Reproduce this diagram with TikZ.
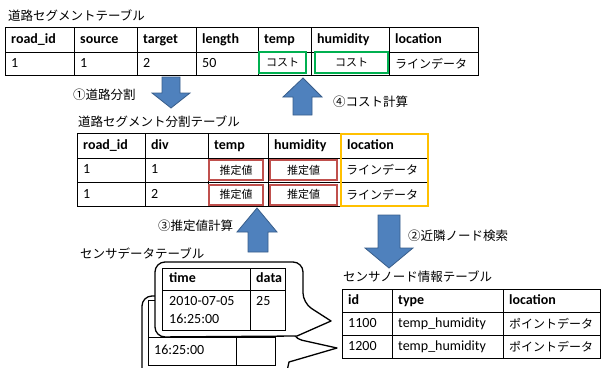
\documentclass[tikz,border=0pt]{standalone}
\usepackage{fontspec}
\setmainfont{Carlito}
\newfontfamily\jp{Noto Sans CJK JP}
\usetikzlibrary{shadows}

\definecolor{costgreen}{HTML}{00B050}
\definecolor{estred}{HTML}{C0504D}
\definecolor{lineyellow}{HTML}{FFC000}
\definecolor{arrowblue}{HTML}{4F81BD}
\definecolor{arrowedge}{HTML}{385D8A}

\tikzset{
  head/.style={anchor=west, inner sep=0pt, text height=10pt, text depth=3pt,
    font=\fontsize{14}{16}\selectfont\bfseries},
  cell/.style={anchor=west, inner sep=0pt, text height=10pt, text depth=3pt,
    font=\fontsize{14}{16}\selectfont},
  jcell/.style={anchor=west, inner sep=0pt, font=\jp\fontsize{12}{14}\selectfont},
  tabtitle/.style={anchor=west, inner sep=0pt, font=\jp\fontsize{12.5}{15}\selectfont},
  grid/.style={line width=0.8pt},
  markbox/.style={line width=2pt, fill=white, inner sep=0pt,
    font=\jp\fontsize{11}{13}\selectfont,
    drop shadow={opacity=0.35, shadow xshift=1.2pt, shadow yshift=-1.2pt}},
  stepArrow/.style={fill=arrowblue, draw=arrowedge, line width=0.8pt},
  callout/.style={draw, fill=white, line width=1.3pt, line join=round}
}

\begin{document}
\begin{tikzpicture}[x=1pt,y=-1pt]
  \useasboundingbox (0,0) rectangle (601,367);
  \clip (0,0) rectangle (601,367);

  % road segment table
  \node[tabtitle] (segtitle) at (8,16) {道路セグメントテーブル};
  \draw[grid] (5,27) rectangle (478,75);
  \draw[grid] (5,52) -- (478,52);
  \foreach \x in {74,137,196,258,311,389}
    \draw[grid] (\x,27) -- (\x,75);
  \foreach \x/\t [count=\i] in {5/road\_id,74/source,137/target,196/length,
      258/temp,311/humidity,389/location}
    \node[head] (seghead\i) at (\x+6,39.5) {\t};
  \foreach \x/\t [count=\i] in {5/1,74/1,137/2,196/50}
    \node[cell] (segcell\i) at (\x+6,63.5) {\t};
  \node[markbox, draw=costgreen, minimum width=47, minimum height=21]
    (costtemp) at (282.5,62.5) {コスト};
  \node[markbox, draw=costgreen, minimum width=73, minimum height=21]
    (costhum) at (351.5,62.5) {コスト};
  \node[jcell] (segloc) at (395,63.5) {ラインデータ};

  % step arrows
  \draw[stepArrow] (162,77) -- (180,77) -- (180,93) -- (190,93) -- (171,108)
    -- (152,93) -- (162,93) -- cycle;
  \node[tabtitle] (step1) at (73,95) {①道路分割};
  \draw[stepArrow] (293,115) -- (312,115) -- (312,97) -- (322,97) -- (303,78)
    -- (283,97) -- (293,97) -- cycle;
  \node[tabtitle] (step4) at (333,102) {④コスト計算};

  % divided segment table
  \node[tabtitle] (divtitle) at (78,122) {道路セグメント分割テーブル};
  \draw[grid] (340,133) -- (77,133) -- (77,206) -- (340,206);
  \draw[grid] (77,158) -- (428,158);
  \draw[grid] (77,182) -- (428,182);
  \foreach \x in {145,208,268,340}
    \draw[grid] (\x,133) -- (\x,206);
  \foreach \x/\t [count=\i] in {77/road\_id,145/div,208/temp,268/humidity,341/location}
    \node[head] (divhead\i) at (\x+6,145.5) {\t};
  \foreach \y/\d [count=\i] in {170/1,194.5/2} {
    \node[cell] (divid\i) at (83,\y) {1};
    \node[cell] (divno\i) at (151,\y) {\d};
    \node[markbox, draw=estred, minimum width=54, minimum height=20]
      (esttemp\i) at (236,\y) {推定値};
    \node[markbox, draw=estred, minimum width=67, minimum height=20]
      (esthum\i) at (303.5,\y) {推定値};
    \node[jcell] (divloc\i) at (346,\y) {ラインデータ};
  }
  \draw[draw=lineyellow, line width=2pt] (341,134) rectangle (428,206);

  \draw[stepArrow] (248,252) -- (268,252) -- (268,232) -- (277,232) -- (257,208)
    -- (237,232) -- (248,232) -- cycle;
  \node[tabtitle] (step3) at (158,226) {③推定値計算};
  \draw[stepArrow] (378,215) -- (400,215) -- (400,248) -- (413,248) -- (389,268)
    -- (365,248) -- (378,248) -- cycle;
  \node[tabtitle] (step2) at (408,236) {②近隣ノード検索};

  % sensor node table
  \node[tabtitle] (nodetitle) at (343,277) {センサノード情報テーブル};
  \draw[grid] (600,289) -- (342,289) -- (342,358) -- (600,358) -- cycle;
  \draw[grid] (342,312) -- (600,312);
  \draw[grid] (342,335) -- (600,335);
  \foreach \x in {392,503}
    \draw[grid] (\x,289) -- (\x,358);
  \foreach \x/\t [count=\i] in {342/id,392/type,503/location}
    \node[head] (nodehead\i) at (\x+6,300.5) {\t};
  \foreach \y/\n [count=\i] in {323.5/1100,346.5/1200} {
    \node[cell] (nodeid\i) at (348,\y) {\n};
    \node[cell] (nodetype\i) at (398,\y) {temp\_humidity};
    \node[jcell] (nodeloc\i) at (509,\y) {ポイントデータ};
  }

  % sensor data table (two callouts)
  \node[tabtitle] (datatitle) at (80,253) {センサデータテーブル};
  \filldraw[callout] (142,330) [rounded corners=10pt] -- (142,296) -- (292,296)
    -- (292,338) [sharp corners] -- (337,348) -- (289,362)
    [rounded corners=5pt] -- (285,380) -- (142,380) -- cycle;
  \draw[grid] (148,300) rectangle (275,365);
  \draw[grid] (148,337) -- (275,337);
  \draw[grid] (236,300) -- (236,365);
  \node[cell] (backtime) at (154,351) {16:25:00};

  \filldraw[callout] (155,300) [rounded corners=10pt] -- (155,262) -- (303,262)
    -- (303,303) [sharp corners] -- (331,321) -- (297,336)
    [rounded corners=10pt] -- (155,337) -- cycle;
  \draw[grid] (162,268) rectangle (285,330);
  \draw[grid] (162,290) -- (285,290);
  \draw[grid] (250,268) -- (250,330);
  \node[head] (timehead) at (169,279) {time};
  \node[head] (datahead) at (256,279) {data};
  \node[cell] (timedate) at (169,302) {2010-07-05};
  \node[cell] (timeclock) at (169,320) {16:25:00};
  \node[cell] (dataval) at (256,302) {25};
\end{tikzpicture}
\end{document}
